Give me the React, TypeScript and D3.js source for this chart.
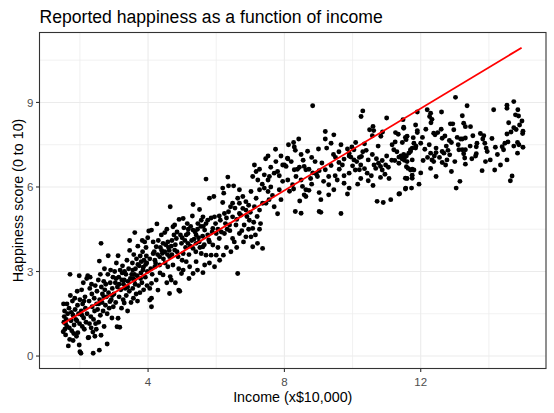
import * as d3 from "d3";

const obsBelow4: [number, number][] = [
  [1.52, 1.85], [1.55, 1.6], [1.53, 1.2], [1.56, 0.95], [1.51, 0.86], [1.58, 0.75], [1.6, 1.3], [1.62, 1.05],
  [1.64, 1.5], [1.66, 0.36], [1.68, 1.7], [1.7, 0.59], [1.71, 2.9], [1.72, 2.15], [1.74, 1.25], [1.76, 0.9],
  [1.78, 1.95], [1.8, 1.45], [1.8, 0.55], [1.83, 1.1], [1.85, 2.05], [1.86, 1.65], [1.88, 1.3], [1.9, 0.7],
  [1.92, 2.3], [1.93, 1.8], [1.94, 0.83], [1.96, 1.5], [1.98, 2.85], [1.98, 0.39], [1.99, 1.15], [2.0, 0.15],
  [2.0, 2.0], [1.54, 1.4], [1.62, 1.85], [1.75, 1.55], [1.69, 1.0], [1.58, 1.15], [1.82, 0.8], [1.91, 1.25],
  [2.03, 0.1], [2.04, 1.6], [2.05, 2.35], [2.07, 1.05], [2.08, 1.85], [2.1, 2.6], [2.11, 1.35], [2.13, 0.95],
  [2.15, 2.1], [2.16, 1.7], [2.18, 1.2], [2.2, 2.75], [2.21, 1.5], [2.23, 2.85], [2.24, 0.65], [2.26, 0.66],
  [2.27, 1.95], [2.29, 2.4], [2.3, 2.8], [2.32, 1.4], [2.33, 1.0], [2.35, 2.2], [2.36, 1.75], [2.38, 0.85],
  [2.39, 0.1], [2.4, 1.3], [2.42, 2.05], [2.43, 1.6], [2.45, 2.5], [2.46, 1.15], [2.48, 0.95], [2.49, 1.85],
  [2.12, 1.95], [2.28, 1.15], [2.06, 1.45], [2.34, 2.55], [2.44, 0.7],
  [2.5, 2.3], [2.52, 1.65], [2.54, 2.7], [2.55, 1.2], [2.57, 0.21], [2.57, 3.37], [2.58, 2.0], [2.6, 1.45],
  [2.62, 4.0], [2.62, 0.74], [2.63, 2.45], [2.65, 1.9], [2.66, 2.2], [2.68, 1.6], [2.7, 2.65], [2.71, 1.05],
  [2.73, 2.35], [2.75, 1.8], [2.76, 2.55], [2.78, 2.1], [2.8, 0.43], [2.8, 1.5], [2.82, 2.9], [2.83, 3.56],
  [2.84, 2.25], [2.86, 1.7], [2.88, 1.93], [2.89, 2.6], [2.9, 3.05], [2.92, 2.0], [2.94, 1.35], [2.95, 2.4],
  [2.97, 2.8], [2.98, 1.75], [2.6, 2.9], [2.72, 3.1], [2.7, 2.1], [2.55, 1.85], [2.95, 2.15],
  [3.0, 2.2], [3.02, 3.0], [3.04, 2.6], [3.05, 1.9], [3.07, 3.3], [3.09, 1.04], [3.1, 2.45], [3.12, 3.56],
  [3.12, 1.34], [3.14, 2.8], [3.15, 2.1], [3.17, 1.02], [3.18, 3.05], [3.2, 2.35], [3.22, 1.7], [3.23, 2.7],
  [3.25, 3.2], [3.27, 2.0], [3.28, 2.55], [3.3, 1.88], [3.31, 3.0], [3.33, 2.4], [3.35, 2.9], [3.36, 2.15],
  [3.38, 3.4], [3.4, 1.6], [3.41, 2.65], [3.43, 3.1], [3.45, 2.3], [3.46, 3.75], [3.46, 4.1], [3.48, 2.75],
  [3.5, 1.9], [3.06, 2.75], [3.24, 2.95], [3.3, 2.7], [3.15, 2.55], [3.4, 2.45],
  [3.52, 2.9], [3.54, 3.3], [3.55, 2.4], [3.57, 2.05], [3.58, 3.6], [3.6, 2.7], [3.61, 4.38], [3.63, 3.1],
  [3.65, 2.2], [3.66, 3.45], [3.68, 2.85], [3.7, 3.9], [3.72, 2.5], [3.74, 3.2], [3.76, 2.25], [3.77, 3.55],
  [3.79, 2.95], [3.8, 3.35], [3.82, 2.6], [3.84, 3.7], [3.85, 3.05], [3.87, 2.35], [3.88, 3.4], [3.9, 4.05],
  [3.92, 2.8], [3.93, 3.25], [3.95, 3.55], [3.97, 2.5], [3.98, 3.0], [3.99, 4.2], [3.56, 2.75], [3.69, 1.95],
  [3.83, 4.1], [3.94, 3.85], [3.55, 3.05], [3.62, 2.55], [3.7, 3.25], [3.78, 2.75], [3.86, 3.15], [3.96, 3.3],
  [3.6, 2.9],
];

const obs4to8: [number, number][] = [
  [4.05, 1.99], [4.1, 1.75], [4.1, 2.05], [4.1, 2.58], [4.24, 2.7], [4.29, 2.34], [4.44, 2.88], [4.63, 2.22],
  [4.65, 2.82], [4.68, 2.7], [4.9, 2.34], [4.93, 2.3], [4.98, 2.93], [5.03, 3.05], [4.58, 3.17], [4.73, 3.23],
  [4.88, 3.52], [5.03, 3.64], [5.12, 3.35], [5.22, 3.17], [5.32, 2.93], [5.41, 3.35], [5.61, 2.96], [5.66, 3.23],
  [5.95, 3.17], [5.56, 3.64], [5.7, 3.58], [5.85, 3.58], [6.0, 3.58], [6.21, 3.58], [6.43, 3.7], [5.61, 3.88],
  [5.8, 4.05], [5.9, 3.94], [6.0, 4.35], [6.09, 4.17], [6.24, 4.35], [6.48, 4.17], [6.53, 4.05], [6.68, 4.35],
  [5.17, 4.35], [5.32, 4.47], [5.41, 4.3], [5.66, 4.47], [5.75, 4.3], [5.9, 4.53], [4.15, 3.64], [4.34, 3.52],
  [4.49, 3.7], [4.63, 3.52], [4.78, 3.76], [4.24, 3.88], [4.44, 4.0], [4.15, 4.05], [4.58, 4.05], [4.83, 4.17],
  [5.12, 4.3], [4.98, 4.0], [5.17, 4.0], [5.32, 3.82], [5.41, 4.0], [4.34, 3.23], [4.2, 3.17], [4.5, 3.3],
  [4.02, 4.44], [4.26, 4.69], [4.1, 4.47], [4.39, 4.3], [4.49, 4.38], [4.73, 4.59], [4.78, 4.65], [4.91, 4.85],
  [5.03, 4.88], [4.65, 5.3], [5.32, 5.38], [5.51, 5.2], [5.3, 4.97], [5.61, 4.94], [5.56, 4.82], [5.46, 4.7],
  [5.75, 4.82], [5.95, 4.94], [6.09, 4.97], [6.24, 5.06], [6.36, 5.12], [6.48, 4.94], [6.27, 4.7], [6.39, 4.65],
  [6.58, 4.65], [6.82, 4.65], [6.97, 4.82], [7.07, 4.53], [7.27, 4.5], [6.87, 4.23], [7.02, 4.23], [7.21, 4.0],
  [7.36, 3.82], [7.07, 3.88], [6.63, 2.93], [5.7, 6.28], [6.34, 6.35], [6.36, 6.04], [6.51, 6.04], [6.19, 5.96],
  [6.22, 5.78], [6.68, 5.9], [6.78, 5.66], [6.63, 5.6], [6.87, 5.48], [6.68, 5.42], [6.48, 5.42], [6.78, 5.24],
  [6.87, 5.18], [6.68, 5.06], [6.19, 5.45], [5.8, 5.6], [5.93, 5.66], [7.74, 7.34], [7.52, 7.1], [7.95, 6.78],
  [7.12, 6.78], [7.17, 6.55], [7.27, 6.63], [7.41, 6.43], [7.52, 6.25], [7.56, 6.37], [7.7, 6.49], [7.8, 6.55],
  [7.07, 6.37], [7.22, 6.25], [7.27, 5.9], [7.41, 5.96], [7.52, 5.84], [7.02, 5.84], [7.17, 5.6], [7.36, 5.42],
  [7.27, 5.18], [7.46, 5.42], [7.12, 5.3], [7.6, 6.0], [7.65, 5.7], [7.7, 5.3], [7.85, 5.9], [7.75, 6.9],
  [7.9, 7.1], [7.6, 6.7], [7.45, 7.0], [7.35, 6.1], [7.55, 5.55], [7.8, 5.05], [7.95, 6.2],
  [5.05, 4.55], [5.15, 4.7], [5.25, 4.6], [5.35, 4.15], [5.45, 4.5], [5.5, 4.05], [5.6, 4.25], [5.7, 4.7],
  [5.78, 4.12], [5.85, 4.9], [5.88, 4.4], [5.98, 4.7], [6.05, 4.5], [6.12, 4.82], [6.15, 4.4], [6.3, 4.9],
  [6.32, 4.5], [6.42, 5.3], [6.55, 5.25], [6.6, 4.85], [6.72, 5.0], [6.75, 4.45], [6.9, 4.95], [6.95, 5.35],
  [7.0, 5.1], [7.1, 4.75], [7.2, 4.95], [7.3, 4.7], [5.28, 4.1], [5.0, 4.2], [4.85, 4.4], [4.7, 4.1],
  [4.6, 3.85], [4.4, 3.75], [4.3, 4.1], [4.55, 4.5], [4.8, 3.95], [5.1, 3.85], [5.2, 3.6], [5.4, 3.7],
  [5.0, 3.4], [4.9, 3.1], [4.7, 3.6], [4.45, 3.45], [4.2, 3.4], [4.12, 2.9], [4.35, 2.95], [4.55, 2.6],
  [4.8, 2.6], [5.2, 2.75], [5.45, 3.05], [5.8, 3.3], [6.1, 3.4], [6.3, 3.85], [6.6, 3.85], [6.8, 4.05],
  [6.95, 4.5], [7.15, 4.3], [6.4, 4.45], [6.05, 3.85], [5.65, 3.95], [5.55, 4.6],
  [4.05, 3.45], [4.08, 3.1], [4.18, 3.7], [4.22, 3.3], [4.28, 3.6], [4.36, 3.85], [4.42, 3.65], [4.52, 3.95],
  [4.57, 3.6], [4.62, 3.75], [4.68, 3.9], [4.76, 4.3], [4.85, 3.7], [4.95, 4.3], [5.08, 4.1], [5.18, 4.5],
  [5.24, 3.9], [5.38, 4.4], [5.48, 4.2], [5.52, 3.85], [5.62, 4.6], [4.05, 2.4],
];

const obs8to11: [number, number][] = [
  [8.12, 7.5], [8.09, 7.02], [8.83, 8.88], [10.3, 8.7], [10.25, 8.5], [11.0, 8.45], [10.6, 8.15], [10.5, 8.03],
  [10.62, 8.0], [9.2, 7.97], [9.45, 7.85], [9.2, 7.7], [9.37, 7.55], [9.24, 7.38], [8.42, 7.7], [8.27, 7.58],
  [8.29, 7.42], [8.32, 7.3], [8.68, 7.27], [8.49, 7.15], [9.66, 7.5], [10.09, 7.58], [10.35, 7.53], [10.04, 7.32],
  [9.98, 7.42], [9.9, 7.2], [9.95, 7.06], [10.3, 7.25], [10.26, 7.08], [10.83, 7.8], [10.88, 7.95], [10.58, 7.82],
  [11.26, 7.93], [11.34, 7.87], [11.16, 7.5], [11.21, 7.32], [11.3, 7.25], [9.44, 7.15], [9.5, 7.05], [9.75, 6.99],
  [9.9, 7.1], [10.04, 6.96], [10.2, 7.05], [10.12, 6.9], [10.24, 6.78], [10.46, 6.96], [10.58, 7.15], [10.63, 6.78],
  [10.76, 6.84], [10.87, 6.94], [10.82, 6.73], [10.97, 6.78], [11.05, 6.7], [10.68, 6.66], [10.87, 6.6], [11.24, 6.94],
  [11.36, 7.06], [11.07, 6.3], [10.82, 6.34], [10.46, 6.22], [10.43, 6.49], [10.24, 6.3], [10.2, 6.61], [10.08, 6.6],
  [9.9, 6.49], [9.9, 5.96], [9.75, 6.13], [9.75, 6.4], [9.61, 6.63], [9.7, 6.78], [9.49, 6.4], [9.3, 6.37],
  [9.3, 6.08], [9.3, 5.72], [9.02, 5.8], [9.07, 5.55], [8.97, 6.37], [8.94, 6.45], [9.02, 6.58], [9.2, 6.61],
  [9.37, 6.76], [9.6, 6.87], [8.77, 6.3], [8.83, 6.5], [8.63, 6.61], [8.72, 6.63], [8.63, 5.9], [8.72, 5.88],
  [8.58, 5.72], [8.63, 5.66], [8.53, 6.02], [8.49, 6.25], [8.58, 6.73], [8.44, 6.7], [8.38, 6.63], [8.29, 6.61],
  [8.34, 6.37], [8.24, 6.08], [8.27, 5.93], [8.1, 7.0], [8.0, 6.78], [8.05, 6.73], [7.85, 6.4], [7.9, 5.55],
  [8.32, 5.13], [8.49, 5.07], [9.02, 5.13], [9.07, 5.1], [9.66, 5.06], [10.72, 5.49], [11.12, 5.55], [10.9, 5.45],
  [8.2, 6.9], [8.55, 6.95], [8.9, 6.9], [8.8, 7.05], [9.1, 6.85], [9.55, 6.25], [9.15, 6.2], [10.0, 6.75],
  [10.35, 6.65], [10.7, 7.0], [11.0, 7.1], [11.15, 6.95], [10.55, 6.4], [10.95, 6.45], [9.85, 7.35], [9.6, 7.25],
  [9.0, 7.35], [8.45, 5.5], [8.8, 6.1], [9.45, 5.9], [8.1, 6.25], [8.15, 5.85], [10.15, 6.1], [10.6, 6.05],
  [9.85, 5.75], [10.4, 7.3], [10.75, 7.45], [11.25, 7.6],
];

const obsAbove11: [number, number][] = [
  [11.48, 8.39], [11.5, 8.12], [11.6, 7.8], [11.57, 7.68], [11.8, 7.55], [11.7, 7.32], [11.86, 7.45], [11.9, 8.0],
  [11.85, 8.2], [11.48, 7.03], [11.55, 7.08], [11.6, 6.9], [11.75, 6.96], [11.7, 6.6], [11.8, 6.6], [11.6, 6.3],
  [11.75, 6.42], [11.56, 5.96], [11.73, 5.96], [11.38, 5.76], [13.02, 9.18], [13.36, 8.88], [12.61, 8.66], [12.19, 8.74],
  [12.29, 8.62], [12.26, 8.5], [12.33, 8.4], [12.3, 8.28], [11.9, 8.66], [11.5, 8.08], [11.9, 7.93], [12.05, 7.76],
  [12.0, 7.55], [11.78, 7.75], [11.55, 7.76], [11.46, 7.58], [11.75, 7.38], [11.85, 7.38], [11.45, 7.0], [11.5, 7.15],
  [11.52, 6.95], [11.58, 7.1], [11.65, 7.2], [11.42, 7.1], [11.7, 7.26], [11.36, 6.84], [11.63, 6.66], [11.75, 6.63],
  [11.55, 6.31], [11.75, 6.31], [11.55, 5.93], [11.36, 5.75], [12.12, 7.34], [12.07, 6.94], [12.33, 6.96], [12.38, 6.9],
  [12.29, 6.66], [12.45, 6.37], [12.45, 7.22], [12.38, 7.91], [12.5, 7.93], [12.42, 7.85], [12.71, 7.81], [12.63, 7.73],
  [12.75, 7.45], [12.63, 7.26], [12.68, 7.2], [12.63, 6.87], [12.73, 6.78], [12.77, 6.96], [12.85, 7.14], [12.84, 7.65],
  [12.9, 7.58], [12.87, 8.24], [12.94, 8.24], [12.97, 8.03], [13.07, 7.76], [13.17, 7.7], [13.1, 7.5], [13.12, 7.32],
  [13.22, 7.32], [13.31, 7.32], [13.26, 7.18], [13.29, 7.03], [13.31, 6.81], [13.04, 5.96], [13.22, 8.53], [13.26, 8.26],
  [13.31, 8.14], [13.46, 8.14], [13.22, 7.7], [13.31, 7.74], [13.53, 7.82], [13.65, 7.55], [13.63, 7.43], [13.63, 7.18],
  [13.61, 7.1], [13.85, 7.82], [13.82, 7.7], [13.88, 7.55], [13.92, 7.38], [13.95, 7.26], [13.8, 6.58], [14.04, 6.96],
  [14.09, 7.72], [14.14, 8.74], [14.17, 6.6], [14.19, 7.41], [14.34, 6.78], [14.39, 7.43], [14.43, 7.32], [14.53, 7.88],
  [14.53, 6.96], [14.56, 7.6], [14.47, 7.55], [14.58, 8.28], [14.53, 8.9], [14.53, 8.79], [14.73, 9.03], [14.78, 8.56],
  [14.87, 8.52], [14.85, 8.74], [14.73, 8.1], [14.8, 8.04], [14.97, 8.34], [15.0, 7.98], [14.99, 7.9], [14.84, 7.58],
  [14.88, 7.5], [14.73, 7.45], [15.0, 7.41], [14.84, 7.2], [14.68, 6.39], [14.63, 6.22], [12.29, 7.2], [12.45, 7.38],
  [12.4, 7.1], [12.2, 7.05], [11.58, 6.72], [12.8, 7.3], [12.55, 7.05], [12.25, 7.5], [12.15, 8.05], [12.6, 8.05],
  [13.0, 6.9], [13.45, 7.45], [13.5, 7.0], [13.75, 7.9], [14.25, 7.15], [14.65, 7.95], [14.9, 8.2], [13.9, 6.9],
  [13.15, 6.2], [12.0, 6.5], [12.9, 6.55], [11.95, 6.1],
];

// fitted line end points
const fitIncome = [1.49, 14.96];
const fitHappiness = [1.14, 10.94];

const xTicks = [4, 8, 12];
const xMinor = [2, 6, 10, 14];
const yTicks = [0, 3, 6, 9];
const yMinor = [1.5, 4.5, 7.5, 10.5];

const W = 554;
const H = 413;
const panel = { left: 39.5, right: 546, top: 32.5, bottom: 368.5 };
const font = "'Liberation Sans', Arial, sans-serif";

export default function App() {
  const points = [...obsBelow4, ...obs4to8, ...obs8to11, ...obsAbove11];

  const xs = [...points.map((d) => d[0]), ...fitIncome];
  const ys = [...points.map((d) => d[1]), ...fitHappiness];
  const [x0, x1] = d3.extent(xs) as [number, number];
  const [y0, y1] = d3.extent(ys) as [number, number];
  const px = (x1 - x0) * 0.05;
  const py = (y1 - y0) * 0.05;

  const xScale = d3.scaleLinear().domain([x0 - px, x1 + px]).range([panel.left, panel.right]);
  const yScale = d3.scaleLinear().domain([y0 - py, y1 + py]).range([panel.bottom, panel.top]);

  const fitLine = d3
    .line<number>()
    .x((d) => xScale(d))
    .y((_, i) => yScale(fitHappiness[i]));

  return (
    <div style={{ position: "fixed", left: 0, top: 0 }}>
      <svg width={W} height={H} viewBox={`0 0 ${W} ${H}`} style={{ display: "block", background: "#fff" }}>
        <rect x={0} y={0} width={W} height={H} fill="#fff" />
        {/* grid */}
        {xMinor.map((t) => (
          <line key={`xm${t}`} x1={xScale(t)} x2={xScale(t)} y1={panel.top} y2={panel.bottom} stroke="#EBEBEB" strokeWidth={0.7} />
        ))}
        {yMinor.map((t) => (
          <line key={`ym${t}`} x1={panel.left} x2={panel.right} y1={yScale(t)} y2={yScale(t)} stroke="#EBEBEB" strokeWidth={0.7} />
        ))}
        {xTicks.map((t) => (
          <line key={`xg${t}`} x1={xScale(t)} x2={xScale(t)} y1={panel.top} y2={panel.bottom} stroke="#EBEBEB" strokeWidth={1.1} />
        ))}
        {yTicks.map((t) => (
          <line key={`yg${t}`} x1={panel.left} x2={panel.right} y1={yScale(t)} y2={yScale(t)} stroke="#EBEBEB" strokeWidth={1.1} />
        ))}

        {/* points */}
        {points.map((d, i) => (
          <circle key={i} cx={xScale(d[0])} cy={yScale(d[1])} r={2.45} fill="#000" />
        ))}

        {/* fitted line */}
        <path d={fitLine(fitIncome) || ""} fill="none" stroke="#FF0000" strokeWidth={1.9} />

        {/* panel border */}
        <rect
          x={panel.left}
          y={panel.top}
          width={panel.right - panel.left}
          height={panel.bottom - panel.top}
          fill="none"
          stroke="#333333"
          strokeWidth={1.1}
        />

        {/* x axis */}
        {xTicks.map((t) => (
          <g key={`xt${t}`}>
            <line x1={xScale(t)} x2={xScale(t)} y1={panel.bottom} y2={panel.bottom + 3.5} stroke="#333333" strokeWidth={1.1} />
            <text x={xScale(t)} y={panel.bottom + 17} textAnchor="middle" fontSize={11.5} fill="#4D4D4D" fontFamily={font}>
              {t}
            </text>
          </g>
        ))}
        {/* y axis */}
        {yTicks.map((t) => (
          <g key={`yt${t}`}>
            <line x1={panel.left - 3.5} x2={panel.left} y1={yScale(t)} y2={yScale(t)} stroke="#333333" strokeWidth={1.1} />
            <text x={panel.left - 6} y={yScale(t)} dy="0.36em" textAnchor="end" fontSize={11.5} fill="#4D4D4D" fontFamily={font}>
              {t}
            </text>
          </g>
        ))}

        <text x={(panel.left + panel.right) / 2} y={402} textAnchor="middle" fontSize={14.3} fill="#000" fontFamily={font}>
          Income (x$10,000)
        </text>
        <text
          transform={`translate(23,${(panel.top + panel.bottom) / 2}) rotate(-90)`}
          textAnchor="middle"
          fontSize={14.3}
          fill="#000"
          fontFamily={font}
        >
          Happiness score (0 to 10)
        </text>
        <text x={panel.left} y={22.5} fontSize={17.6} fill="#000" fontFamily={font}>
          Reported happiness as a function of income
        </text>
      </svg>
    </div>
  );
}
